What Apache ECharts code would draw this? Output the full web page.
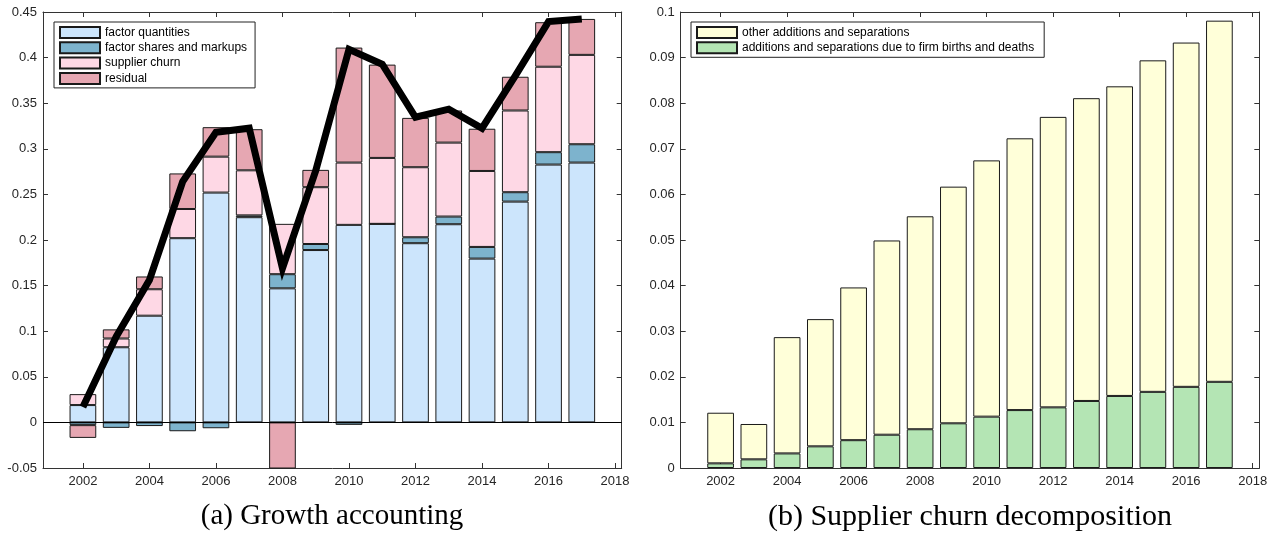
<!DOCTYPE html>
<html>
<head>
<meta charset="utf-8">
<script src="https://cdn.jsdelivr.net/npm/echarts@6/dist/echarts.min.js"></script>
<style>
html,body{margin:0;padding:0;background:#fff;}
#chart{width:1280px;height:538px;}
</style>
</head>
<body>
<div id="chart"></div>
<script>
// ---- data ----
const years = [2002,2003,2004,2005,2006,2007,2008,2009,2010,2011,2012,2013,2014,2015,2016,2017];
const xTickYears = [2002,2004,2006,2008,2010,2012,2014,2016,2018];

// (a) Growth accounting
const factorQuantities = [0.019,0.0824,0.117,0.202,0.252,0.225,0.147,0.189,0.2166,0.2177,0.1965,0.2173,0.1796,0.2421,0.2827,0.2849];
const factorSharesMarkups = [-0.003,-0.006,-0.004,-0.0097,-0.0064,0.002,0.0155,0.0066,-0.0027,0.0,0.0065,0.0084,0.0128,0.0103,0.0136,0.0201];
const supplierChurn = [0.012,0.0096,0.029,0.032,0.0394,0.0494,0.0552,0.0623,0.0683,0.0723,0.0768,0.0811,0.0833,0.0896,0.0937,0.098];
const residual = [-0.014,0.010,0.014,0.039,0.0323,0.0451,-0.052,0.019,0.1261,0.1023,0.0541,0.0352,0.0463,0.037,0.0488,0.0394];
const totalGrowth = [0.017,0.094,0.156,0.264,0.318,0.3226,0.169,0.276,0.409,0.3927,0.3346,0.3434,0.3226,0.38,0.4395,0.4424];

// (b) Supplier churn decomposition
const birthsDeaths = [0.00102,0.0019,0.0032,0.00475,0.0061,0.0073,0.0085,0.0098,0.01126,0.0127,0.0133,0.0147,0.0158,0.0167,0.0178,0.0189];
const otherAddSep = [0.0111,0.00775,0.0255,0.0279,0.0335,0.0426,0.0467,0.0519,0.0562,0.0596,0.0637,0.0664,0.0679,0.0727,0.0755,0.0792];

const names = {
  fq: 'factor quantities', fs: 'factor shares and markups', sc: 'supplier churn', rs: 'residual',
  oa: 'other additions and separations', bd: 'additions and separations due to firm births and deaths'
};

// ---- chart ----
// value first, year second (so the value dimension is the stacked one)
const pair = arr => years.map((y, i) => [arr[i], y]);
const axisColor = '#333';
const labelFont = {fontFamily: 'Liberation Sans, Arial, sans-serif', fontSize: 13, color: '#262626'};

function xAxes(gridIndex) {
  const base = {
    type: 'value', gridIndex, min: 2000.8, max: 2018.2,
    splitLine: {show: false},
    axisLine: {show: true, onZero: false, lineStyle: {color: axisColor, width: 1}},
    axisTick: {show: true, inside: true, length: 5, customValues: xTickYears, lineStyle: {color: axisColor}},
  };
  return [
    Object.assign({}, base, {position: 'bottom',
      axisLabel: Object.assign({show: true, margin: 7, customValues: xTickYears, formatter: v => String(v)}, labelFont)}),
    Object.assign({}, base, {position: 'top', axisLabel: {show: false}})
  ];
}
function yAxes(gridIndex, min, max, interval) {
  const base = {
    type: 'value', gridIndex, min, max, interval,
    splitLine: {show: false},
    axisLine: {show: true, onZero: false, lineStyle: {color: axisColor, width: 1}},
    axisTick: {show: true, inside: true, length: 5, lineStyle: {color: axisColor}},
  };
  return [
    Object.assign({}, base, {position: 'left',
      axisLabel: Object.assign({show: true, margin: 6, formatter: v => String(+v.toFixed(4))}, labelFont)}),
    Object.assign({}, base, {position: 'right', axisLabel: {show: false}})
  ];
}

const border = {borderColor: '#1a1a1a', borderWidth: 1};
function barSeries(name, arr, color, xi, yi, stack, extra) {
  return Object.assign({
    name, type: 'bar', stack, xAxisIndex: xi, yAxisIndex: yi,
    barWidth: 26.7, data: pair(arr), encode: {x: 1, y: 0},
    itemStyle: Object.assign({color}, border),
    emphasis: {disabled: true}, animation: false
  }, extra || {});
}

const legendBase = {
  orient: 'vertical', backgroundColor: '#fff', borderColor: '#222', borderWidth: 1,
  itemWidth: 40, itemHeight: 11, itemGap: 2.3, itemTextGap: 4, icon: 'rect',
  textStyle: {fontFamily: 'Liberation Sans, Arial, sans-serif', fontSize: 12, color: '#000', lineHeight: 13},
  selectedMode: false
};

const titleStyle = {fontFamily: 'Liberation Serif, serif', fontWeight: 'normal', fontSize: 29, color: '#000'};

const option = {
  animation: false,
  grid: [
    {left: 43, right: 658.3, top: 12, bottom: 70},
    {left: 680.7, right: 20.7, top: 12, bottom: 70}
  ],
  xAxis: [...xAxes(0), ...xAxes(1)],
  yAxis: [...yAxes(0, -0.05, 0.45, 0.05), ...yAxes(1, 0, 0.1, 0.01)],
  legend: [
    Object.assign({}, legendBase, {left: 54, top: 22, padding: [4, 8, 3, 5],
      data: [names.fq, names.fs, names.sc, names.rs]}),
    Object.assign({}, legendBase, {left: 691, top: 22, padding: [4, 10, 3, 5],
      data: [names.oa, names.bd]})
  ],
  title: [
    {text: '(a) Growth accounting', left: 332, top: 502, textAlign: 'center', padding: 0,
     textStyle: Object.assign({}, titleStyle)},
    {text: '(b) Supplier churn decomposition', left: 970, top: 502, textAlign: 'center', padding: 0,
     textStyle: Object.assign({}, titleStyle, {fontSize: 30})}
  ],
  series: [
    barSeries(names.fq, factorQuantities, '#cce5fc', 0, 0, 'a', {
      markLine: {silent: true, symbol: 'none', label: {show: false}, animation: false,
        lineStyle: {color: '#000', width: 1, type: 'solid'}, data: [{yAxis: 0}]}
    }),
    barSeries(names.fs, factorSharesMarkups, '#7db3cd', 0, 0, 'a'),
    barSeries(names.sc, supplierChurn, '#fed8e5', 0, 0, 'a'),
    barSeries(names.rs, residual, '#e6a7b2', 0, 0, 'a'),
    {
      name: 'total', type: 'line', xAxisIndex: 0, yAxisIndex: 0, data: pair(totalGrowth), encode: {x: 1, y: 0},
      symbol: 'none', z: 5, lineStyle: {color: '#000', width: 7, join: 'miter', cap: 'butt'},
      emphasis: {disabled: true}, animation: false
    },
    barSeries(names.bd, birthsDeaths, '#b4e5b4', 2, 2, 'b'),
    barSeries(names.oa, otherAddSep, '#ffffd9', 2, 2, 'b')
  ]
};

const chart = echarts.init(document.getElementById('chart'), null, {renderer: 'canvas'});
chart.setOption(option);
</script>
</body>
</html>
